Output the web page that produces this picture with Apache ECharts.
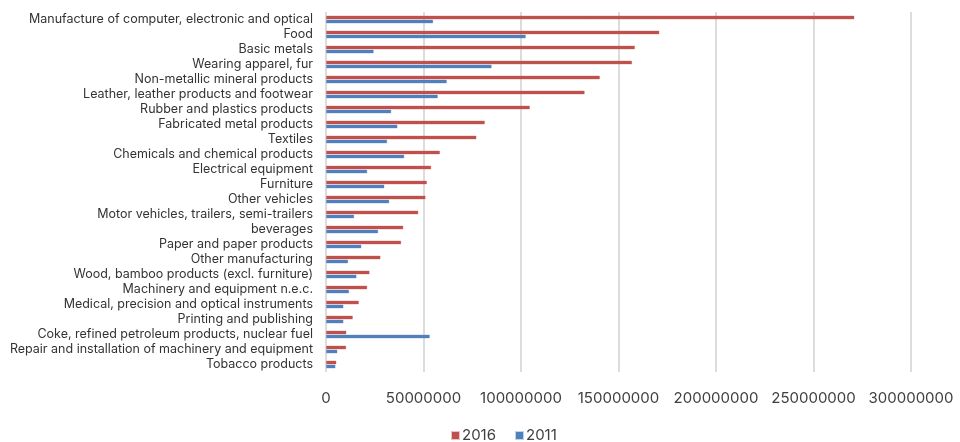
<!DOCTYPE html>
<html>
<head>
<meta charset="utf-8">
<script src="https://cdn.jsdelivr.net/npm/echarts@6/dist/echarts.min.js"></script>
<style>
  html, body { margin: 0; padding: 0; background: #ffffff; }
  #chart { width: 960px; height: 442px; }
</style>
</head>
<body>
<div id="chart"></div>
<script>
// Industry output by manufacturing sector, 2016 vs 2011
const categories = [
  'Manufacture of computer, electronic and optical',
  'Food',
  'Basic metals',
  'Wearing apparel, fur',
  'Non-metallic mineral products',
  'Leather, leather products and footwear',
  'Rubber and plastics products',
  'Fabricated metal products',
  'Textiles',
  'Chemicals and chemical products',
  'Electrical equipment',
  'Furniture',
  'Other vehicles',
  'Motor vehicles, trailers, semi-trailers',
  'beverages',
  'Paper and paper products',
  'Other manufacturing',
  'Wood, bamboo products (excl. furniture)',
  'Machinery and equipment n.e.c.',
  'Medical, precision and optical instruments',
  'Printing and publishing',
  'Coke, refined petroleum products, nuclear fuel',
  'Repair and installation of machinery and equipment',
  'Tobacco products'
];

const values2016 = [
  271000000, 171000000, 158500000, 157000000, 140500000, 132700000,
  104600000, 81500000, 77200000, 58500000, 54000000, 51800000,
  51100000, 47400000, 39700000, 38600000, 28000000, 22400000,
  21200000, 16900000, 13800000, 10500000, 10400000, 5400000
];

const values2011 = [
  55000000, 102500000, 24500000, 85000000, 62000000, 57400000,
  33500000, 36700000, 31400000, 40200000, 21200000, 30000000,
  32500000, 14500000, 26800000, 18200000, 11400000, 15700000,
  11900000, 9000000, 9000000, 53300000, 5900000, 4900000
];

const seriesNames = ['2016', '2011'];
const xTicks = [0, 50000000, 100000000, 150000000, 200000000, 250000000, 300000000];

const chart = echarts.init(document.getElementById('chart'), null, { renderer: 'canvas' });

const fontFamily = 'Inter, Roboto, "Noto Sans", sans-serif';

chart.setOption({
  animation: false,
  backgroundColor: '#ffffff',
  grid: { left: 326, right: 49, top: 12, bottom: 70, containLabel: false },
  legend: {
    data: seriesNames,
    left: 451,
    top: 428,
    padding: 0,
    itemWidth: 7,
    itemHeight: 7,
    itemGap: 19,
    icon: 'rect',
    textStyle: { fontFamily, fontSize: 15, lineHeight: 15, color: '#404040', padding: [0, 0, 0, -2] }
  },
  xAxis: {
    type: 'value',
    min: xTicks[0],
    max: xTicks[xTicks.length - 1],
    interval: xTicks[1] - xTicks[0],
    axisLine: { show: false },
    axisTick: { show: false },
    splitLine: { show: true, lineStyle: { color: '#dcdcdc', width: 2 } },
    axisLabel: {
      fontFamily, fontSize: 15, color: '#404040', margin: 19,
      formatter: (v) => String(v)
    }
  },
  yAxis: {
    type: 'category',
    data: categories,
    inverse: true,
    axisLine: { show: false },
    axisTick: { show: false },
    splitLine: { show: false },
    axisLabel: { fontFamily, fontSize: 12.5, color: '#333333', margin: 13, interval: 0 }
  },
  series: [
    {
      name: seriesNames[0],
      type: 'bar',
      data: values2016,
      barWidth: 4,
      barGap: '0%',
      itemStyle: { color: '#c0504d', borderColor: 'rgba(192,80,77,0.35)', borderWidth: 1 }
    },
    {
      name: seriesNames[1],
      type: 'bar',
      data: values2011,
      barWidth: 4,
      barGap: '0%',
      itemStyle: { color: '#4f81bd', borderColor: 'rgba(79,129,189,0.35)', borderWidth: 1 }
    }
  ]
});
</script>
</body>
</html>
